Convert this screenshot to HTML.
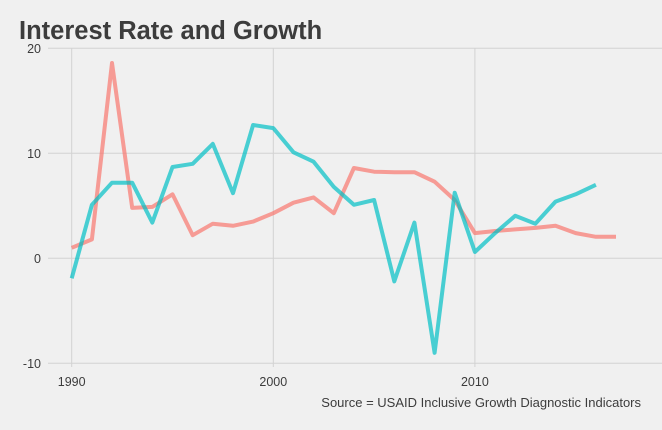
<!DOCTYPE html>
<html><head><meta charset="utf-8">
<style>
html,body{margin:0;padding:0;background:#f0f0f0;}
svg{display:block;font-family:"Liberation Sans",Arial,sans-serif;}
</style></head>
<body>
<svg id="chart" width="662" height="430" viewBox="0 0 662 430">
<rect width="662" height="430" fill="#f0f0f0"/>
<text x="19" y="39" font-size="25.5" font-weight="bold" fill="#3c3c3c">Interest Rate and Growth</text>
<g id="grid"></g>
<g id="series"></g>
<text x="641" y="407" font-size="13" fill="#3c3c3c" text-anchor="end">Source = USAID Inclusive Growth Diagnostic Indicators</text>
</svg>
<script>
const years = [1990,1991,1992,1993,1994,1995,1996,1997,1998,1999,2000,2001,2002,2003,2004,2005,2006,2007,2008,2009,2010,2011,2012,2013,2014,2015,2016,2017];
const interestRate = [1.0,1.8,18.6,4.8,4.9,6.1,2.2,3.3,3.1,3.5,4.3,5.3,5.8,4.3,8.6,8.25,8.2,8.2,7.3,5.55,2.4,2.6,2.75,2.9,3.1,2.4,2.05,2.05];
const growth = [-1.9,5.1,7.2,7.2,3.4,8.7,9.0,10.9,6.2,12.7,12.4,10.1,9.2,6.8,5.1,5.55,-2.2,3.4,-9.0,6.25,0.6,2.4,4.05,3.3,5.4,6.1,7.0,null];
const yTicks = [-10,0,10,20];
const xTicks = [1990,2000,2010];

const NS="http://www.w3.org/2000/svg";
const x = v => 71.7 + (v-1990)*20.16;
const y = v => 258.3 - v*10.5;
const grid=document.getElementById('grid'), series=document.getElementById('series');

yTicks.forEach(t=>{
  const l=document.createElementNS(NS,'line');
  
  
  l.setAttribute('x1',48);l.setAttribute('x2',662);l.setAttribute('y1',y(t));l.setAttribute('y2',y(t));
  l.setAttribute('stroke','#d2d2d2');l.setAttribute('stroke-width','1');
  grid.appendChild(l);
  const tx=document.createElementNS(NS,'text');
  
  
  tx.setAttribute('x',41);tx.setAttribute('y',y(t)+4.5);tx.setAttribute('text-anchor','end');
  tx.setAttribute('font-size','12.5');tx.setAttribute('fill','#3c3c3c');tx.textContent=t;
  grid.appendChild(tx);
});
xTicks.forEach(t=>{
  const l=document.createElementNS(NS,'line');
  
  
  l.setAttribute('x1',x(t));l.setAttribute('x2',x(t));l.setAttribute('y1',48);l.setAttribute('y2',367);
  l.setAttribute('stroke','#d2d2d2');l.setAttribute('stroke-width','1');
  grid.appendChild(l);
  const tx=document.createElementNS(NS,'text');
  
  
  tx.setAttribute('x',x(t));tx.setAttribute('y',386);tx.setAttribute('text-anchor','middle');
  tx.setAttribute('font-size','12.5');tx.setAttribute('fill','#3c3c3c');tx.textContent=t;
  grid.appendChild(tx);
});
function draw(vals,color,name){
  const pts=[];
  vals.forEach((v,i)=>{ if(v!==null) pts.push(x(years[i]).toFixed(1)+','+y(v).toFixed(1)); });
  const p=document.createElementNS(NS,'polyline');
  
  
  p.setAttribute('points',pts.join(' '));
  p.setAttribute('fill','none');p.setAttribute('stroke',color);p.setAttribute('stroke-width','4');
  p.setAttribute('stroke-opacity','0.7');p.setAttribute('stroke-linejoin','round');
  series.appendChild(p);
}
draw(interestRate,'#f8766d','interest-rate-line');
draw(growth,'#00bfc4','growth-line');
</script>
</body></html>
